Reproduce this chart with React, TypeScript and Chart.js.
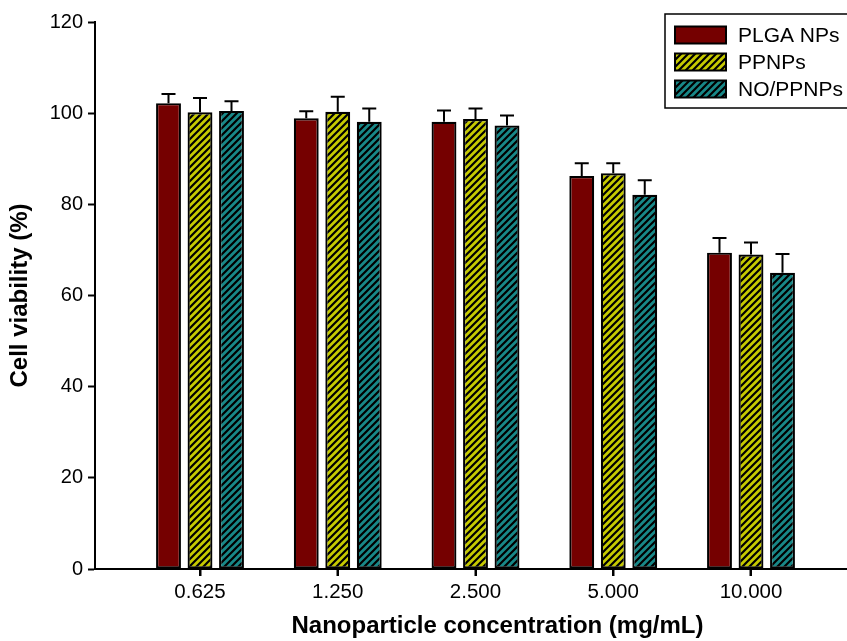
import { useEffect, useRef } from "react";
import { Chart, registerables } from "chart.js";

Chart.register(...registerables);

const categories = ["0.625", "1.250", "2.500", "5.000", "10.000"];
const seriesNames = ["PLGA NPs", "PPNPs", "NO/PPNPs"];
const plgaValues = [102.2, 98.9, 98.1, 86.2, 69.4];
const plgaErrors = [2.0, 1.5, 2.5, 2.8, 3.2];
const ppnpValues = [100.2, 100.3, 98.7, 86.8, 69.0];
const ppnpErrors = [3.1, 3.3, 2.3, 2.2, 2.6];
const noppnpValues = [100.5, 98.1, 97.3, 82.1, 65.0];
const noppnpErrors = [2.1, 2.9, 2.2, 3.2, 4.1];
const yTicks = [0, 20, 40, 60, 80, 100, 120];

const FONT = "'Liberation Sans', Arial, Helvetica, sans-serif";
const seriesValues = [plgaValues, ppnpValues, noppnpValues];
const seriesErrors = [plgaErrors, ppnpErrors, noppnpErrors];

function hatch(color: string): CanvasPattern | string {
  const s = 7;
  const c = document.createElement("canvas");
  c.width = s;
  c.height = s;
  const g = c.getContext("2d");
  if (!g) return color;
  g.fillStyle = color;
  g.fillRect(0, 0, s, s);
  g.strokeStyle = "#000";
  g.lineWidth = 2.2;
  g.beginPath();
  g.moveTo(-1, s + 1);
  g.lineTo(s + 1, -1);
  g.moveTo(-2, 2);
  g.lineTo(2, -2);
  g.moveTo(s - 2, s + 2);
  g.lineTo(s + 2, s - 2);
  g.stroke();
  const p = g.createPattern(c, "repeat");
  return p || color;
}

export default function App() {
  const ref = useRef<HTMLCanvasElement | null>(null);

  useEffect(() => {
    if (!ref.current) return;
    const fills: (CanvasPattern | string)[] = [
      "#750000",
      hatch("#c6ca00"),
      hatch("#188888"),
    ];

    const errorBars = {
      id: "errorBars",
      beforeDatasetsDraw(chart: any) {
        const ctx = chart.ctx;
        const y = chart.scales.y;
        ctx.save();
        ctx.strokeStyle = "#000";
        ctx.lineWidth = 2;
        chart.data.datasets.forEach((_: any, di: number) => {
          const meta = chart.getDatasetMeta(di);
          meta.data.forEach((el: any, i: number) => {
            const top = y.getPixelForValue(seriesValues[di][i]);
            const ey = y.getPixelForValue(seriesValues[di][i] + seriesErrors[di][i]);
            ctx.beginPath();
            ctx.moveTo(el.x, top);
            ctx.lineTo(el.x, ey);
            ctx.moveTo(el.x - 7, ey);
            ctx.lineTo(el.x + 7, ey);
            ctx.stroke();
          });
        });
        ctx.restore();
      },
    };

    const extras = {
      id: "extras",
      afterDraw(chart: any) {
        const ctx = chart.ctx;
        const xs = chart.scales.x;
        ctx.save();
        // x tick marks at category centres
        ctx.strokeStyle = "#000";
        ctx.lineWidth = 2;
        categories.forEach((_, i) => {
          const px = Math.round(xs.getPixelForValue(i + 1));
          ctx.beginPath();
          ctx.moveTo(px, xs.top);
          ctx.lineTo(px, xs.top + 7);
          ctx.stroke();
        });
        // legend
        ctx.lineWidth = 1.5;
        ctx.strokeRect(665, 14, 220, 94);
        seriesNames.forEach((name, i) => {
          const cy = 35 + i * 27;
          ctx.fillStyle = fills[i] as any;
          ctx.fillRect(675, cy - 8.5, 51, 17);
          ctx.lineWidth = 2;
          ctx.strokeRect(675, cy - 8.5, 51, 17);
          ctx.fillStyle = "#000";
          ctx.font = `21px ${FONT}`;
          ctx.textBaseline = "middle";
          ctx.textAlign = "left";
          ctx.fillText(name, 738, cy + 1);
        });
        ctx.restore();
      },
    };

    const chart = new Chart(ref.current, {
      type: "bar",
      data: {
        datasets: seriesNames.map((name, di) => ({
          label: name,
          data: categories.map((_, i) => ({ x: i + 1, y: seriesValues[di][i] })),
          backgroundColor: fills[di] as any,
          borderColor: "#000",
          borderWidth: 2.2,
          borderSkipped: false,
          categoryPercentage: 0.686,
          barPercentage: 0.79,
        })),
      },
      options: {
        animation: false,
        responsive: true,
        maintainAspectRatio: false,
        layout: { padding: { top: 22, left: 0, right: 0, bottom: 0 } },
        plugins: {
          legend: { display: false },
          tooltip: { enabled: false },
        },
        scales: {
          x: {
            type: "linear",
            offset: false,
            min: 0.2377,
            max: 6.0817,
            afterBuildTicks: (scale: any) => {
              scale.ticks = categories.map((_, i) => ({ value: i + 1 }));
            },
            afterFit: (scale: any) => {
              scale.height = 72;
            },
            grid: {
              display: true,
              offset: false,
              drawOnChartArea: false,
              drawTicks: true,
              tickLength: 7,
              tickWidth: 2,
              tickColor: "#000",
            },
            border: { display: true, color: "#000", width: 2 },
            ticks: {
              color: "#000",
              font: { family: FONT, size: 20.5 },
              padding: 4,
              maxRotation: 0,
              autoSkip: false,
              callback: (v: any) => categories[Math.round(Number(v)) - 1] ?? "",
            },
            title: {
              display: true,
              text: "Nanoparticle concentration (mg/mL)",
              color: "#000",
              font: { family: FONT, size: 24, weight: "bold" },
              padding: { top: 0, bottom: 0 },
            },
          },
          y: {
            type: "linear",
            min: 0,
            max: 120,
            afterBuildTicks: (scale: any) => {
              scale.ticks = yTicks.map((v) => ({ value: v }));
            },
            afterFit: (scale: any) => {
              scale.width = 95;
            },
            grid: {
              display: true,
              drawOnChartArea: false,
              drawTicks: true,
              tickLength: 7,
              tickWidth: 2,
              tickColor: "#000",
            },
            border: { display: true, color: "#000", width: 2 },
            ticks: {
              color: "#000",
              font: { family: FONT, size: 20 },
              padding: 5,
            },
            title: {
              display: true,
              text: "Cell viability (%)",
              color: "#000",
              font: { family: FONT, size: 24, weight: "bold" },
              padding: { top: 6, bottom: 0 },
            },
          },
        },
      },
      plugins: [errorBars, extras],
    } as any);

    return () => chart.destroy();
  }, []);

  return (
    <div
      style={{
        position: "fixed",
        left: 0,
        top: 0,
        width: 847,
        height: 641,
        overflow: "hidden",
        background: "#fff",
      }}
    >
      <div style={{ position: "relative", width: 900, height: 641 }}>
        <canvas ref={ref} />
      </div>
    </div>
  );
}
